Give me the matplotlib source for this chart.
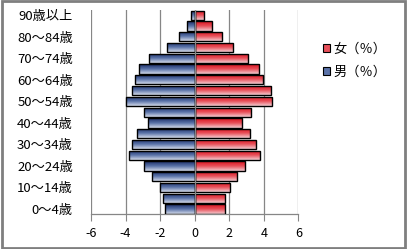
import numpy as np
import matplotlib.pyplot as plt
from matplotlib.colors import LinearSegmentedColormap
from matplotlib.patches import Rectangle

plt.rcParams['font.family'] = ['Noto Sans CJK JP', 'DejaVu Sans']

# 年齢階級（下から上へ）
ages = ['0〜4歳', '5〜9歳', '10〜14歳', '15〜19歳', '20〜24歳', '25〜29歳',
        '30〜34歳', '35〜39歳', '40〜44歳', '45〜49歳', '50〜54歳', '55〜59歳',
        '60〜64歳', '65〜69歳', '70〜74歳', '75〜79歳', '80〜84歳', '85〜89歳',
        '90歳以上']
male = [1.74, 1.85, 2.03, 2.49, 2.95, 3.79, 3.63, 3.32, 2.72, 2.95,
        3.96, 3.65, 3.47, 3.24, 2.63, 1.59, 0.93, 0.46, 0.20]
female = [1.74, 1.74, 2.03, 2.47, 2.89, 3.78, 3.53, 3.18, 2.76, 3.24,
          4.46, 4.40, 3.94, 3.71, 3.07, 2.24, 1.56, 0.98, 0.56]
xticks = [-6, -4, -2, 0, 2, 4, 6]

male_cmap = LinearSegmentedColormap.from_list('m', ['#1a2d66', '#5a72a8', '#d4dbea'])
female_cmap = LinearSegmentedColormap.from_list('f', ['#d8101c', '#e8505a', '#f4cdd2'])
grad = np.linspace(0, 1, 64).reshape(-1, 1)

fig = plt.figure(figsize=(4.07, 2.49), dpi=100)
ax = fig.add_axes([0.2236, 0.1394, 0.5097, 0.8206])

y = np.arange(len(ages))
bars_m = ax.barh(y, -np.array(male), height=0.86, facecolor='none',
                 edgecolor='black', linewidth=1.0, zorder=3, label='男（％）')
bars_f = ax.barh(y, female, height=0.86, facecolor='none',
                 edgecolor='black', linewidth=1.0, zorder=3, label='女（％）')

# グラデーション塗り
for bars, cmap in ((bars_m, male_cmap), (bars_f, female_cmap)):
    for p in bars:
        x0, y0 = p.get_x(), p.get_y()
        x1, y1 = x0 + p.get_width(), y0 + p.get_height()
        im = ax.imshow(grad, cmap=cmap, aspect='auto', origin='upper',
                       extent=(min(x0, x1), max(x0, x1), y0, y1), zorder=2)
        im.set_clip_path(p)

ax.set_xlim(-6, 6)
ax.set_ylim(-0.5, len(ages) - 0.5)
ax.set_xticks(xticks)
ax.set_xticklabels([str(t) for t in xticks], fontsize=9)
ax.set_yticks(y[::2])
ax.set_yticklabels(ages[::2], fontsize=9.5)
ax.tick_params(axis='y', length=0, pad=13)
ax.tick_params(axis='x', length=5, color='#868686', direction='out', pad=4)

ax.grid(axis='x', color='#868686', linewidth=0.9, zorder=0)
ax.axvline(0, color='#868686', linewidth=0.9, zorder=4)
for s in ('top', 'right', 'left'):
    ax.spines[s].set_visible(False)
ax.spines['bottom'].set_color('#868686')
ax.spines['bottom'].set_linewidth(0.9)

# 凡例（グラデーションの四角）
handles = [Rectangle((0, 0), 1, 1, facecolor='#e8505a', edgecolor='black', linewidth=0.8),
           Rectangle((0, 0), 1, 1, facecolor='#5a72a8', edgecolor='black', linewidth=0.8)]
fig.legend(handles, ['女（％）', '男（％）'], loc='upper left',
           bbox_to_anchor=(0.765, 0.875), frameon=False, fontsize=9.5,
           handlelength=0.55, handleheight=0.55, handletextpad=0.2,
           labelspacing=0.75)

fig.patches.append(Rectangle((0.004, 0.006), 0.99, 0.99, transform=fig.transFigure,
                             fill=False, edgecolor='#7f7f7f', linewidth=2))

fig.savefig('out.png', dpi=100)
